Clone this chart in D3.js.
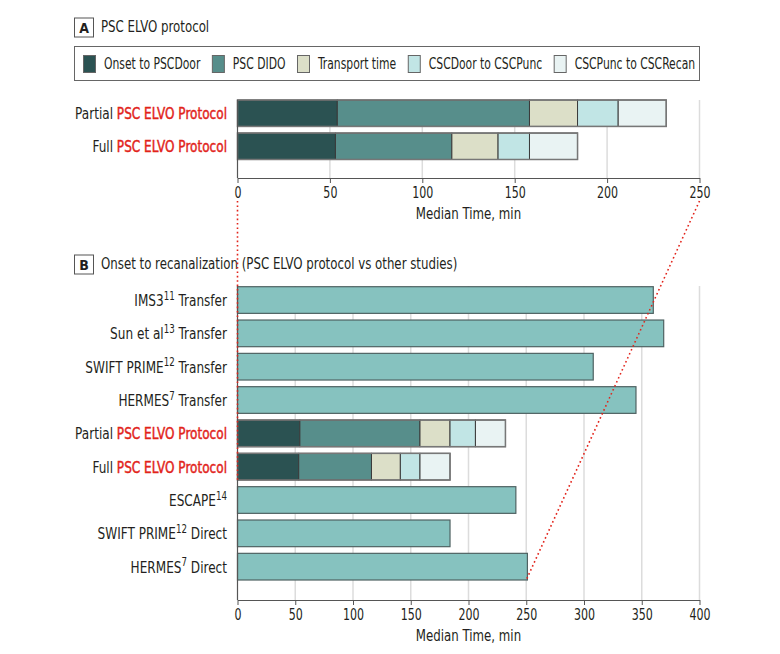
<!DOCTYPE html>
<html>
<head>
<meta charset="utf-8">
<script src="https://cdn.jsdelivr.net/npm/d3@7"></script>
<style>
  html, body { margin: 0; padding: 0; background: #fff; }
  svg text { font-family: "Liberation Sans Narrow", "DejaVu Sans Condensed", "DejaVu Sans", sans-serif; fill: #231f20; }
</style>
</head>
<body>
<svg id="chart" width="780" height="654"></svg>
<script>
// ---------- DATA ----------
const segmentNames = ["Onset to PSCDoor", "PSC DIDO", "Transport time", "CSCDoor to CSCPunc", "CSCPunc to CSCRecan"];
const segmentColors = ["#2b5252", "#578e8b", "#dcdfc8", "#c1e5e5", "#e9f3f3"];
const protocolRows = ["Partial", "Full"];
const partialValues = [54, 104, 26, 22, 26];
const fullValues = [53, 63, 25, 17, 26];

// Panel B categories (top to bottom)
const rowKeysB = ["IMS3T", "SunT", "SwiftT", "HermesT", "Partial", "Full", "Escape", "SwiftD", "HermesD"];
const labelMainB = ["IMS3", "Sun et al", "SWIFT PRIME", "HERMES", "Partial", "Full", "ESCAPE", "SWIFT PRIME", "HERMES"];
const labelSupB = ["11", "13", "12", "7", "", "", "14", "12", "7"];
const labelTailB = [" Transfer", " Transfer", " Transfer", " Transfer", "", "", "", " Direct", " Direct"];
const studyKeys = ["IMS3T", "SunT", "SwiftT", "HermesT", "Escape", "SwiftD", "HermesD"];
const studyValues = [360, 369, 308, 345, 241, 184, 251];

const ticksA = [0, 50, 100, 150, 200, 250];
const ticksB = [0, 50, 100, 150, 200, 250, 300, 350, 400];
const axisTitle = "Median Time, min";
const titleA = "PSC ELVO protocol";
const titleB = "Onset to recanalization (PSC ELVO protocol vs other studies)";
const protocolRed = "PSC ELVO Protocol";

// ---------- LAYOUT ----------
const svg = d3.select("#chart");
const RED = "#e2231a";
const K = 0.82;               // horizontal condensing of the text face
const KL = 0.84;              // category labels
const KLEG = 0.80;            // legend
const x0 = 237.5, x1 = 699.5;
const labelX = 227;

function condense(sel, ax, k = K) {
  sel.attr("transform", `translate(${ax * (1 - k)},0) scale(${k},1)`);
  return sel;
}

function stackOf(vals) {
  let c = 0;
  return vals.map((v, i) => { const s = { i, x0: c, x1: c + v }; c += v; return s; });
}
const stacks = { Partial: stackOf(partialValues), Full: stackOf(fullValues) };

function panelTitle(letter, text, yTop) {
  svg.append("rect").attr("x", 74.5).attr("y", yTop + 0.5).attr("width", 19).attr("height", 19)
    .attr("fill", "#fff").attr("stroke", "#555").attr("stroke-width", 1);
  svg.append("text").attr("x", 84).attr("y", yTop + 15).attr("text-anchor", "middle")
    .style("font-weight", "bold").style("font-size", "14px").text(letter);
  condense(svg.append("text").attr("x", 101).attr("y", yTop + 15).style("font-size", "16px").text(text), 101);
}

function drawGrid(xScale, top, axisY, ticks) {
  const g = svg.append("g");
  g.selectAll(".grid").data(ticks.slice(1)).join("line")
    .attr("x1", d => xScale(d)).attr("x2", d => xScale(d))
    .attr("y1", top).attr("y2", axisY)
    .attr("stroke", "#dcdcdc").attr("stroke-width", 1.5);
  return g;
}

function drawAxis(xScale, axisY, top, ticks) {
  const ax = svg.append("g").attr("transform", `translate(0,${axisY})`)
    .call(d3.axisBottom(xScale).tickValues(ticks).tickSize(5).tickPadding(4).tickSizeOuter(0));
  ax.select(".domain").attr("stroke", "#555").attr("stroke-width", 1.2);
  ax.selectAll(".tick line").attr("stroke", "#555");
  ax.selectAll(".tick text").style("font-size", "15px").attr("fill", "#231f20")
    .style("font-family", '"Liberation Sans Narrow", "DejaVu Sans Condensed", "DejaVu Sans", sans-serif')
    .attr("transform", `scale(${K},1)`);
  svg.append("line").attr("x1", xScale(0)).attr("x2", xScale(0)).attr("y1", top).attr("y2", axisY)
    .attr("stroke", "#555").attr("stroke-width", 1.2);
  const cx = (xScale.range()[0] + xScale.range()[1]) / 2;
  condense(svg.append("text").attr("x", cx).attr("y", axisY + 41)
    .attr("text-anchor", "middle").style("font-size", "16px").text(axisTitle), cx);
}

function drawStack(g, key, y, bw, xScale) {
  g.selectAll(null).data(stacks[key]).join("rect")
    .attr("x", d => xScale(d.x0)).attr("width", d => xScale(d.x1) - xScale(d.x0))
    .attr("y", y).attr("height", bw)
    .attr("fill", d => segmentColors[d.i]).attr("stroke", "#3a3a3a").attr("stroke-width", 1);
  const last = stacks[key][stacks[key].length - 1];
  g.append("rect").attr("x", xScale(0)).attr("y", y).attr("width", xScale(last.x1) - xScale(0)).attr("height", bw)
    .attr("fill", "none").attr("stroke", "#777").attr("stroke-width", 1.5);
}

function protocolLabel(key, yMid) {
  const t = svg.append("text").attr("x", labelX).attr("y", yMid + 6).attr("text-anchor", "end").style("font-size", "16px");
  t.append("tspan").text(key + " ");
  t.append("tspan").attr("fill", RED).style("fill", RED)
    .attr("stroke", RED).attr("stroke-width", 0.45).text(protocolRed);
  condense(t, labelX, KL);
}

// ---------- PANEL A ----------
panelTitle("A", titleA, 17.5);

const legend = svg.append("g");
legend.append("rect").attr("x", 74.5).attr("y", 46.5).attr("width", 625).attr("height", 34)
  .attr("fill", "#fff").attr("stroke", "#666").attr("stroke-width", 1);
let lx = 83;
segmentNames.forEach((name, i) => {
  legend.append("rect").attr("x", lx + 0.5).attr("y", 55.5).attr("width", 12).attr("height", 17)
    .attr("fill", segmentColors[i]).attr("stroke", "#666").attr("stroke-width", 1);
  const tx = lx + 21;
  const t = legend.append("text").attr("x", tx).attr("y", 69).style("font-size", "15px").text(name);
  condense(t, tx, KLEG);
  lx = tx + t.node().getComputedTextLength() * KLEG + 11.5;
});

const xA = d3.scaleLinear().domain([0, 250]).range([x0, x1]);
const yA = d3.scaleBand().domain(protocolRows).range([100, 178]).paddingInner(0.2).paddingOuter(0.28).align(0);
const axisYA = 178;
const gA = drawGrid(xA, 100, axisYA, ticksA);
protocolRows.forEach(k => {
  drawStack(gA, k, yA(k), yA.bandwidth(), xA);
  protocolLabel(k, yA(k) + yA.bandwidth() / 2);
});
drawAxis(xA, axisYA, 100, ticksA);

// ---------- PANEL B ----------
panelTitle("B", titleB, 254.5);
const xB = d3.scaleLinear().domain([0, 400]).range([x0, x1]);
const yB = d3.scaleBand().domain(rowKeysB).range([286.7, 600]).paddingInner(0.2).paddingOuter(0.3).align(0);
const axisYB = 600;
const gB = drawGrid(xB, 286, axisYB, ticksB);
gB.selectAll(".study").data(studyKeys).join("rect")
  .attr("x", xB(0)).attr("y", d => yB(d))
  .attr("width", (d, i) => xB(studyValues[i]) - xB(0)).attr("height", yB.bandwidth())
  .attr("fill", "#86c2bf").attr("stroke", "#4f6262").attr("stroke-width", 1.2);
["Partial", "Full"].forEach(k => drawStack(gB, k, yB(k), yB.bandwidth(), xB));

rowKeysB.forEach((k, i) => {
  const yMid = yB(k) + yB.bandwidth() / 2;
  if (k === "Partial" || k === "Full") { protocolLabel(k, yMid); return; }
  const t = svg.append("text").attr("x", labelX).attr("y", yMid + 6).attr("text-anchor", "end").style("font-size", "16px");
  t.append("tspan").text(labelMainB[i]);
  if (labelSupB[i]) t.append("tspan").attr("dy", -6.5).style("font-size", "11.5px").text(labelSupB[i]);
  if (labelTailB[i]) t.append("tspan").attr("dy", labelSupB[i] ? 6.5 : 0).text(labelTailB[i]);
  condense(t, labelX, KL);
});
drawAxis(xB, axisYB, 286, ticksB);

// ---------- zoom connector lines ----------
const fullBottom = yB("Full") + yB.bandwidth();
const hermesDBottom = yB("HermesD") + yB.bandwidth();
const conn = [
  [[xA(0), 201], [xB(0), fullBottom]],
  [[xA(250), 201], [xB(250), hermesDBottom]]
];
svg.selectAll(".conn").data(conn).join("line")
  .attr("x1", d => d[0][0]).attr("y1", d => d[0][1])
  .attr("x2", d => d[1][0]).attr("y2", d => d[1][1])
  .attr("stroke", RED).attr("stroke-width", 1.6).attr("stroke-dasharray", "1.6,2.8");
</script>
</body>
</html>
